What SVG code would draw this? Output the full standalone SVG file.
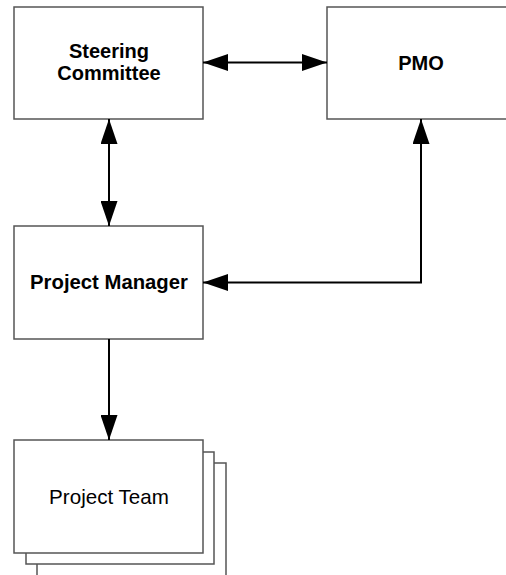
<svg xmlns="http://www.w3.org/2000/svg" width="506" height="575" viewBox="0 0 506 575">
<style>
.box{fill:#fff;stroke:#555;stroke-width:1.5}
.lbl{font-family:"Liberation Sans",Arial,sans-serif;font-size:20px;text-anchor:middle;fill:#000}
.b{font-weight:bold}
.c{fill:none;stroke:#000;stroke-width:2}
</style>
<defs>
<marker id="ah" markerUnits="userSpaceOnUse" markerWidth="25" markerHeight="17" refX="25" refY="8.5" orient="auto-start-reverse" viewBox="0 0 25 17">
<path d="M0,0 L25,8.5 L0,17 z" fill="#000"/>
</marker>
</defs>
<rect width="506" height="575" fill="#fff"/>
<g id="steering-committee">
<rect class="box" x="14" y="7" width="189" height="112"/>
<text class="lbl b" x="109" y="57.5">Steering</text>
<text class="lbl b" x="109" y="79.5">Committee</text>
</g>
<g id="pmo">
<rect class="box" x="327" y="7" width="189" height="112"/>
<text class="lbl b" x="421" y="70">PMO</text>
</g>
<g id="project-manager">
<rect class="box" x="14" y="226" width="189" height="113"/>
<text class="lbl b" x="109" y="288.5" style="font-size:20.3px">Project Manager</text>
</g>
<g id="project-team">
<rect class="box" x="37" y="463" width="189" height="120"/>
<rect class="box" x="26" y="452" width="188" height="112"/>
<rect class="box" x="14" y="440" width="189" height="113"/>
<text class="lbl" x="109" y="503.5" style="font-size:20.6px">Project Team</text>
</g>
<g id="connectors">
<line class="c" x1="203" y1="62.5" x2="327" y2="62.5" marker-start="url(#ah)" marker-end="url(#ah)"/>
<line class="c" x1="109" y1="119" x2="109" y2="226" marker-start="url(#ah)" marker-end="url(#ah)"/>
<polyline class="c" points="421,119 421,282.5 203,282.5" marker-start="url(#ah)" marker-end="url(#ah)"/>
<line class="c" x1="109" y1="339" x2="109" y2="440" marker-end="url(#ah)"/>
</g>
</svg>
